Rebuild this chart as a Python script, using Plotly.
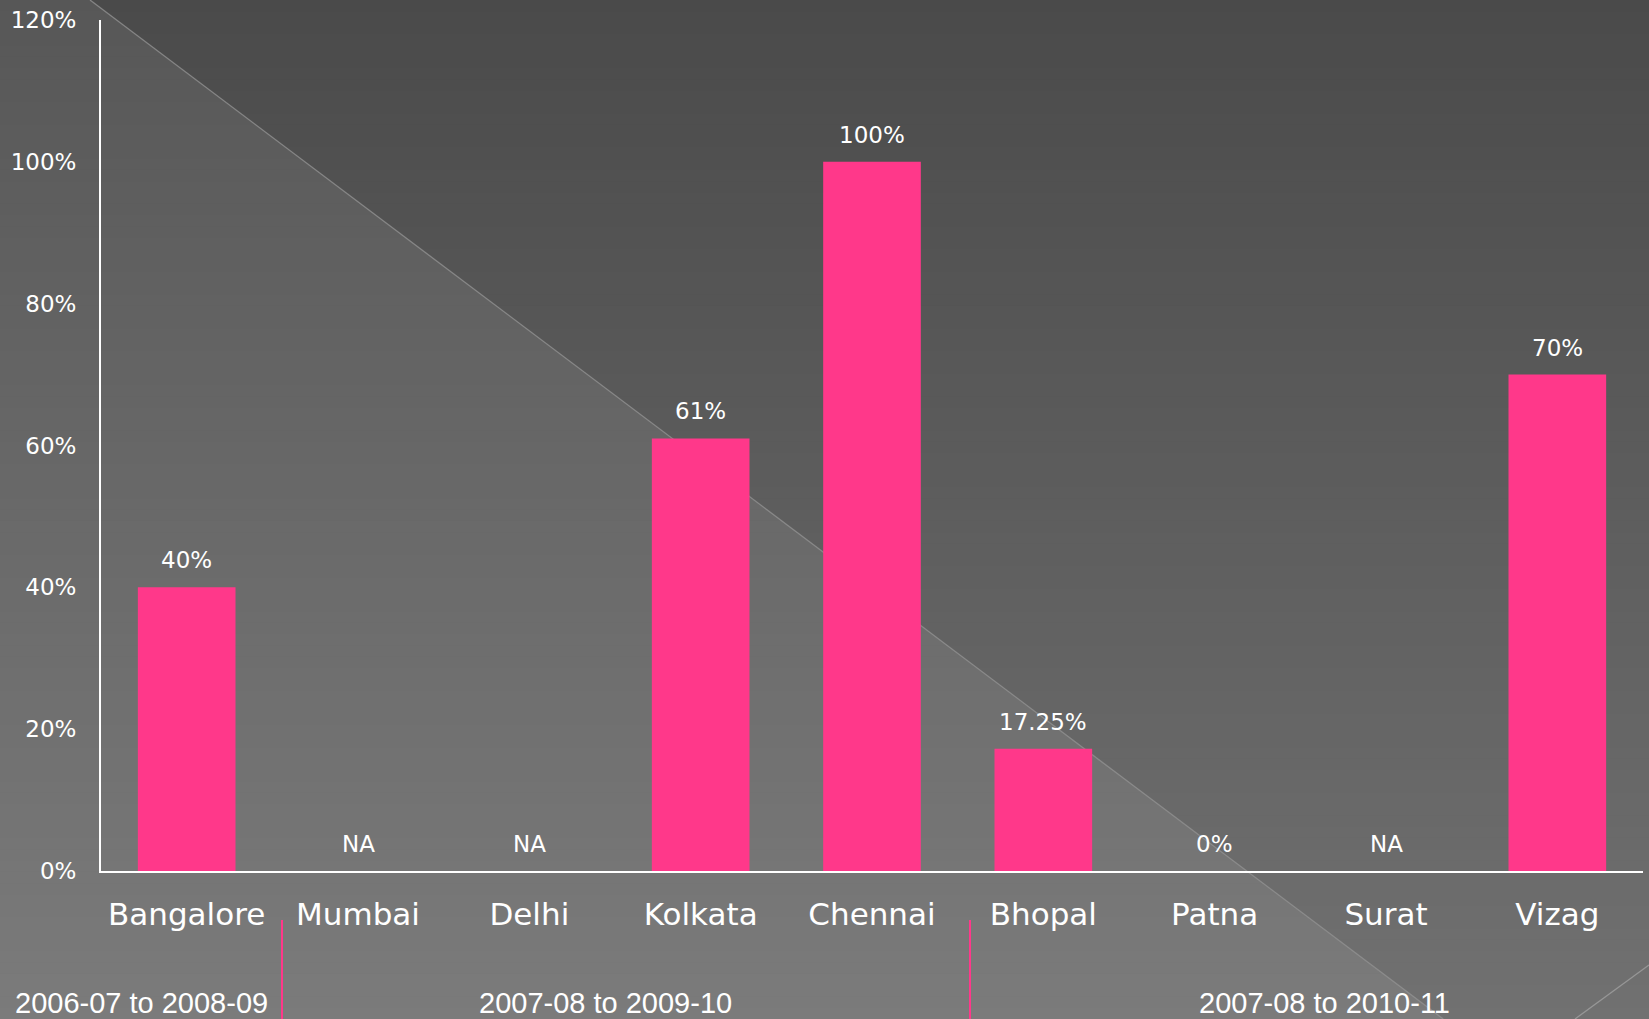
import plotly.graph_objects as go

# ---------------- data ----------------
cities = ["Bangalore", "Mumbai", "Delhi", "Kolkata", "Chennai", "Bhopal", "Patna", "Surat", "Vizag"]
values = [40, None, None, 61, 100, 17.25, 0, None, 70]
period_labels = ["2006-07 to 2008-09", "2007-08 to 2009-10", "2007-08 to 2010-11"]
y_ticks = [0, 20, 40, 60, 80, 100, 120]

# ---------------- layout constants ----------------
W, H = 1649, 1019
ML, MR, MT, MB = 101, 6, 20, 148
PW, PH = W - ML - MR, H - MT - MB
PINK = "#FF388A"


def px(X):
    return (X - ML) / PW


def py(Y):
    return 1 - (Y - MT) / PH


def diag_x(Y):
    # main diagonal of the background
    return 90 + Y / 0.753


def lerp(c0, c1, t):
    return int(round(c0 + (c1 - c0) * t))


shapes = []
N = 90
for i in range(N):
    Y0 = H * i / N
    Y1 = H * (i + 1) / N + 1.2
    t = (i + 0.5) / N
    gl = lerp(0x57, 0x7B, t)
    gr = lerp(0x4A, 0x71, t)
    cl = f"rgb({gl},{gl},{gl})"
    cr = f"rgb({gr},{gr},{gr})"
    xa, xb = diag_x(Y0), diag_x(Y1)
    left = (f"M {px(-2)},{py(Y0)} L {px(xa)},{py(Y0)} L {px(xb)},{py(Y1)} "
            f"L {px(-2)},{py(Y1)} Z")
    right = (f"M {px(xa)},{py(Y0)} L {px(W + 2)},{py(Y0)} L {px(W + 2)},{py(Y1)} "
             f"L {px(xb)},{py(Y1)} Z")
    for pth, col in ((left, cl), (right, cr)):
        shapes.append(dict(type="path", path=pth, xref="paper", yref="paper",
                           fillcolor=col, line=dict(width=0), layer="below"))

# diagonal lines
shapes.append(dict(type="line", xref="paper", yref="paper",
                   x0=px(diag_x(0)), y0=py(0), x1=px(diag_x(H)), y1=py(H),
                   line=dict(color="rgba(150,150,150,0.75)", width=1.3), layer="below"))
shapes.append(dict(type="line", xref="paper", yref="paper",
                   x0=px(1575), y0=py(H), x1=px(W), y1=py(965),
                   line=dict(color="rgba(160,160,160,0.8)", width=1.3), layer="below"))

# pink separators
for X in (282, 970):
    shapes.append(dict(type="line", xref="paper", yref="paper",
                       x0=px(X), y0=py(920), x1=px(X), y1=py(H + 5),
                       line=dict(color=PINK, width=2)))

fig = go.Figure()
fig.add_trace(go.Bar(
    x=cities, y=values, marker=dict(color=PINK, line=dict(width=0)),
    hoverinfo="x+y", showlegend=False,
))

annotations = []
for c, v in zip(cities, values):
    txt = "NA" if v is None else f"{v:g}%"
    annotations.append(dict(
        x=c, y=0 if v is None else v, xref="x", yref="y", text=txt,
        showarrow=False, yanchor="bottom", yshift=12,
        font=dict(family="DejaVu Sans", size=23, color="white"),
    ))

period_pos = [(13, "left"), (605, "center"), (1324, "center")]
for lab, (X, anc) in zip(period_labels, period_pos):
    annotations.append(dict(
        x=px(X), y=py(1003), xref="paper", yref="paper", text=lab,
        showarrow=False, xanchor=anc, yanchor="middle",
        font=dict(family="Liberation Sans, Arial", size=29, color="white"),
    ))

fig.update_layout(
    width=W, height=H,
    margin=dict(l=ML, r=MR, t=MT, b=MB, pad=0),
    paper_bgcolor="#606060",
    plot_bgcolor="rgba(0,0,0,0)",
    bargap=0.43,
    shapes=shapes,
    annotations=annotations,
    xaxis=dict(
        showline=True, linecolor="white", linewidth=2,
        ticks="outside", ticklen=15, tickcolor="rgba(0,0,0,0)",
        tickfont=dict(family="DejaVu Sans", size=31, color="white"),
        showgrid=False, zeroline=False, fixedrange=True,
    ),
    yaxis=dict(
        range=[0, 120], tickvals=y_ticks, ticktext=[f"{t}%" for t in y_ticks],
        showline=True, linecolor="white", linewidth=2,
        ticks="outside", ticklen=18, tickcolor="rgba(0,0,0,0)",
        tickfont=dict(family="DejaVu Sans", size=23, color="white"),
        showgrid=False, zeroline=False, fixedrange=True,
    ),
)

fig.write_html(
    "out.html",
    config={"displayModeBar": False},
    post_script="document.body.style.margin='0';document.body.style.overflow='hidden';",
)
